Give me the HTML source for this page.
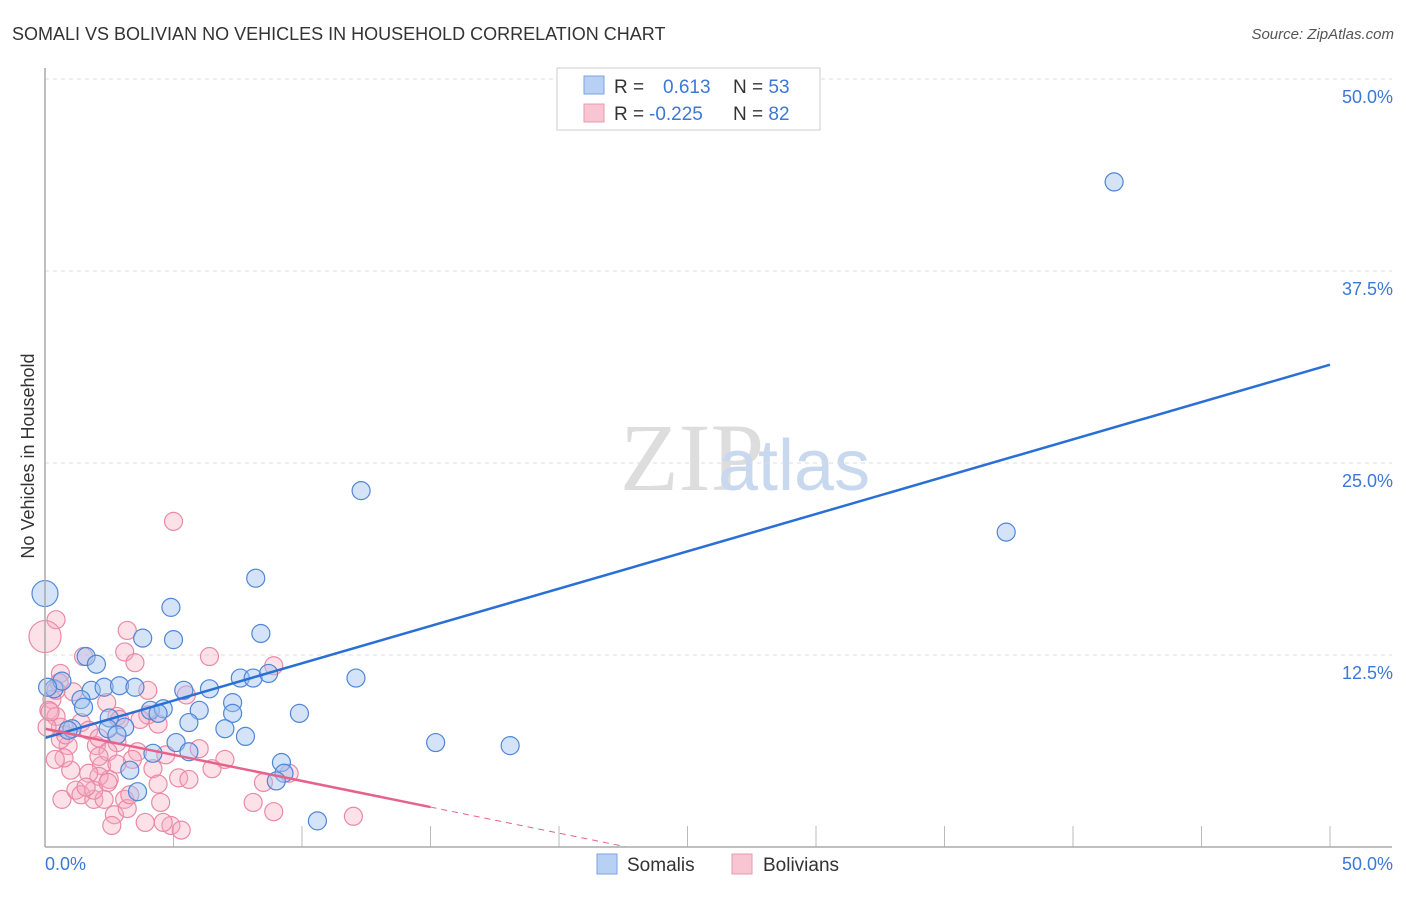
<!DOCTYPE html>
<html><head><meta charset="utf-8"><style>
body{margin:0;background:#fff;font-family:"Liberation Sans",sans-serif;}
</style></head><body>
<svg width="1406" height="892" xmlns="http://www.w3.org/2000/svg" font-family="Liberation Sans, sans-serif">
<text x="12" y="40" font-size="18" fill="#333">SOMALI VS BOLIVIAN NO VEHICLES IN HOUSEHOLD CORRELATION CHART</text>
<text x="1394" y="39" font-size="15" fill="#555" font-style="italic" text-anchor="end">Source: ZipAtlas.com</text>
<text x="620" y="490" font-size="96" fill="#ddd" font-family="Liberation Serif, serif">ZIP</text>
<text x="718" y="490" font-size="72" fill="#c8d8ef">atlas</text>
<text x="34" y="456" font-size="18" fill="#333" text-anchor="middle" transform="rotate(-90 34 456)">No Vehicles in Household</text>
<g id="grid"></g><g id="ticks"></g><g id="pts"></g><g id="trends"></g>
<line x1="45" y1="68" x2="45" y2="847" stroke="#aaa" stroke-width="1.5"/>
<line x1="45" y1="847" x2="1392" y2="847" stroke="#aaa" stroke-width="1.5"/>
<text x="45" y="870" font-size="18" fill="#3b78d8">0.0%</text>
<text x="1393" y="870" font-size="18" fill="#3b78d8" text-anchor="end">50.0%</text>
<g>
<rect x="557" y="68" width="263" height="62" fill="#fff" stroke="#ccc"/>
<rect x="584" y="76" width="20" height="18" fill="#b8d0f4" stroke="#7aa3e0"/>
<rect x="584" y="104" width="20" height="18" fill="#f8c6d3" stroke="#ea9ab0"/>
<text x="614" y="93" font-size="19" fill="#333">R = <tspan fill="#3b78d8" x="663">0.613</tspan><tspan x="733" fill="#333">N = </tspan><tspan fill="#3b78d8">53</tspan></text>
<text x="614" y="120" font-size="19" fill="#333">R = <tspan fill="#3b78d8" x="649">-0.225</tspan><tspan x="733" fill="#333">N = </tspan><tspan fill="#3b78d8">82</tspan></text>
</g>
<g>
<rect x="597" y="854" width="20" height="20" fill="#b8d0f4" stroke="#7aa3e0"/>
<text x="627" y="871" font-size="19" fill="#333">Somalis</text>
<rect x="732" y="854" width="20" height="20" fill="#f8c6d3" stroke="#ea9ab0"/>
<text x="763" y="871" font-size="19" fill="#333">Bolivians</text>
</g>
</svg>
<script>
const yTicks=[12.5,25,37.5,50];
const yTickLabels=["12.5%","25.0%","37.5%","50.0%"];
const xTicks=[5,10,15,20,25,30,35,40,45,50];
const somaliX=[0,41.6,12.3,37.4,8.2,4.9,3.8,5.0,8.4,1.6,2.0,0.35,0.66,1.8,2.3,2.9,3.5,5.4,6.4,7.6,8.1,8.7,12.1,1.4,1.5,2.5,3.1,4.1,4.6,4.4,6.0,7.3,7.3,9.9,5.6,7.0,7.8,5.1,4.2,5.6,3.3,3.6,1.05,0.9,15.2,18.1,9.2,9.3,9.0,10.6,2.45,2.8,0.1];
const somaliY=[16.5,43.3,23.2,20.5,17.5,15.6,13.6,13.5,13.9,12.4,11.9,10.3,10.8,10.2,10.4,10.5,10.4,10.2,10.3,11.0,11.0,11.3,11.0,9.6,9.1,8.4,7.8,8.9,9.0,8.7,8.9,9.4,8.7,8.7,8.1,7.7,7.2,6.8,6.1,6.2,5.0,3.6,7.7,7.6,6.8,6.6,5.5,4.8,4.3,1.7,7.7,7.3,10.4];
const bolivX=[5.0,0.43,0,3.2,3.1,3.5,1.5,6.4,5.5,8.9,0.6,0.55,1.1,0.27,0.15,0.43,2.4,4.0,2.8,0.6,1.4,2.0,0.9,0.6,1.7,2.8,4.0,4.4,6.0,7.0,4.7,3.6,3.4,4.2,4.4,5.2,6.5,2.2,2.5,2.1,1.7,1.0,0.74,1.2,1.4,1.9,2.3,3.1,2.7,3.2,2.6,4.5,3.9,4.9,5.3,4.6,8.1,8.9,8.5,12.0,9.5,0.4,1.9,1.6,0.08,0.8,2.1,2.9,0.66,3.3,0.2,3.7,2.45,2.1,2.8,5.6,0.43,2.45];
const bolivY=[21.2,14.8,13.7,14.1,12.7,12.0,12.4,12.4,9.9,11.8,11.3,10.7,10.1,9.6,8.9,8.5,9.4,10.2,8.5,7.8,8.1,6.6,6.6,7.0,7.6,6.8,8.6,8.0,6.4,5.7,6.0,6.2,5.7,5.1,4.1,4.5,5.1,5.3,4.4,4.6,4.8,5.0,5.8,3.7,3.4,3.1,3.1,3.1,2.1,2.5,1.4,2.9,1.6,1.4,1.1,1.6,2.9,2.3,4.2,2.0,4.8,5.7,3.7,3.9,7.8,7.3,7.1,8.3,3.1,3.4,8.8,8.3,6.2,5.9,5.4,4.4,10.2,4.2];
const somaliTrend=[7.1,31.4];
const bolivTrend=[7.7,-0.34];
const NS="http://www.w3.org/2000/svg";
const X=v=>45+v*25.7, Y=v=>847-v*15.36;
function mk(tag,attrs,parent){const e=document.createElementNS(NS,tag);for(const k in attrs)e.setAttribute(k,attrs[k]);document.getElementById(parent).appendChild(e);return e;}
yTicks.forEach((t,i)=>{
 const l=mk('line',{x1:45,x2:1392,y1:Y(t),y2:Y(t),stroke:'#ddd','stroke-dasharray':'4,4'},'grid');
 
 
 const tx=mk('text',{x:1393,y:Y(t)+24,'font-size':18,fill:'#3b78d8','text-anchor':'end'},'grid');
 tx.textContent=yTickLabels[i];
 
 
});
xTicks.forEach(t=>{
 const l=mk('line',{x1:X(t),x2:X(t),y1:826,y2:847,stroke:'#bbb'},'ticks');
 
 
});
bolivX.forEach((x,i)=>{
 const c=mk('circle',{cx:X(x),cy:Y(bolivY[i]),r:i==2?16:9,fill:'rgba(246,170,192,0.35)',stroke:'#e98aa5','stroke-width':1.2},'pts');
 
 
});
somaliX.forEach((x,i)=>{
 const c=mk('circle',{cx:X(x),cy:Y(somaliY[i]),r:i==0?13:9,fill:'rgba(160,192,240,0.45)',stroke:'#4f86d6','stroke-width':1.2},'pts');
 
 
});
const sl=mk('line',{x1:X(0),y1:Y(somaliTrend[0]),x2:X(50),y2:Y(somaliTrend[1]),stroke:'#2a6fd6','stroke-width':2.5},'trends');


const bl=mk('line',{x1:X(0),y1:Y(bolivTrend[0]),x2:X(15),y2:Y(bolivTrend[0]+bolivTrend[1]*15),stroke:'#e5638a','stroke-width':2.5},'trends');


const bd=mk('line',{x1:X(15),y1:Y(bolivTrend[0]+bolivTrend[1]*15),x2:X(22.6),y2:Y(bolivTrend[0]+bolivTrend[1]*22.6),stroke:'#e5638a','stroke-width':1,'stroke-dasharray':'6,5'},'trends');


</script>
</body></html>
